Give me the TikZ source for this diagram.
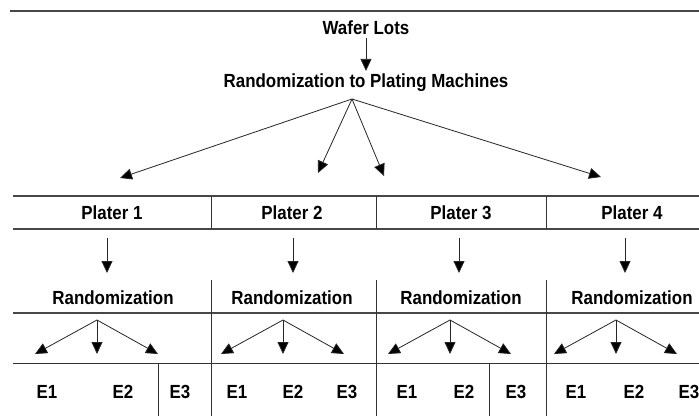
\documentclass[tikz,border=0pt]{standalone}
\usepackage{fontspec}
\setmainfont{Liberation Sans}[FakeStretch=0.89]
\usetikzlibrary{arrows.meta}
\begin{document}
\begin{tikzpicture}[x=1pt,y=-1pt,
  rule/.style={draw=black!72, line width=1.5pt},
  sep/.style={draw=black!80, line width=0.9pt},
  arr/.style={draw=black!85, line width=0.8pt, -{Triangle[length=12pt,width=11pt,fill=black]}},
  toplab/.style={font=\bfseries\fontsize{19}{22}\selectfont, inner sep=0pt},
  lab/.style={font=\bfseries\fontsize{19}{22}\selectfont, inner sep=0pt}]
\fill[white] (0,0) rectangle (699,416);
\useasboundingbox (0,0) rectangle (699,416);
% top
\draw[rule] (10,11) -- (699,11);
\node[toplab] (wafer) at (366,28) {Wafer Lots};
\node[toplab] (rand) at (366,83) {Randomization to Plating Machines};
\draw[arr] ([yshift=-3pt]wafer.south) -- ([yshift=3pt]rand.north);
\coordinate (apex) at (352,99);
\coordinate (t1) at (120,178);
\coordinate (t2) at (318,173);
\coordinate (t3) at (384,176);
\coordinate (t4) at (601,177);
\foreach \t in {t1,t2,t3,t4} \draw[arr] (apex) -- (\t);
% plater row
\draw[rule] (13,196) -- (699,196);
\draw[rule] (13,229) -- (699,229);
\draw[rule] (13,313) -- (699,313);
\draw[sep] (13,363.5) -- (699,363.5);
\foreach \x in {211,376,546} {
  \draw[sep] (\x,196) -- (\x,229);
  \draw[sep] (\x,280) -- (\x,416);
}
\draw[sep] (158,363.5) -- (158,416);
\draw[sep] (489,363.5) -- (489,416);
\node[lab] (p1) at (112,213) {Plater 1};
\node[lab] (p2) at (292,213) {Plater 2};
\node[lab] (p3) at (461,213) {Plater 3};
\node[lab] (p4) at (632,213) {Plater 4};
\node[lab] (r1) at (113,298) {Randomization};
\node[lab] (r2) at (292,298) {Randomization};
\node[lab] (r3) at (461,298) {Randomization};
\node[lab] (r4) at (632,298) {Randomization};
\foreach \i/\x in {1/107,2/293,3/459,4/625} {
  \coordinate (d\i s) at (\x,238);
  \coordinate (d\i e) at (\x,273);
  \draw[arr] (d\i s) -- (d\i e);
}
\foreach \i/\x in {1/97,2/283,3/450,4/616} {
  \coordinate (s\i) at (\x,320);
  \coordinate (s\i a) at (\x-62,354);
  \coordinate (s\i b) at (\x,354);
  \coordinate (s\i c) at (\x+61,354);
  \draw[arr] (s\i) -- (s\i a);
  \draw[arr] (s\i) -- (s\i b);
  \draw[arr] (s\i) -- (s\i c);
}
% E labels
\node[lab] (e11) at (47,392) {E1};
\node[lab] (e12) at (123,392) {E2};
\node[lab] (e13) at (180,392) {E3};
\node[lab] (e21) at (237,392) {E1};
\node[lab] (e22) at (293,392) {E2};
\node[lab] (e23) at (347,392) {E3};
\node[lab] (e31) at (407,392) {E1};
\node[lab] (e32) at (464,392) {E2};
\node[lab] (e33) at (516,392) {E3};
\node[lab] (e41) at (576,392) {E1};
\node[lab] (e42) at (634,392) {E2};
\node[lab] (e43) at (689,392) {E3};
\end{tikzpicture}
\end{document}
